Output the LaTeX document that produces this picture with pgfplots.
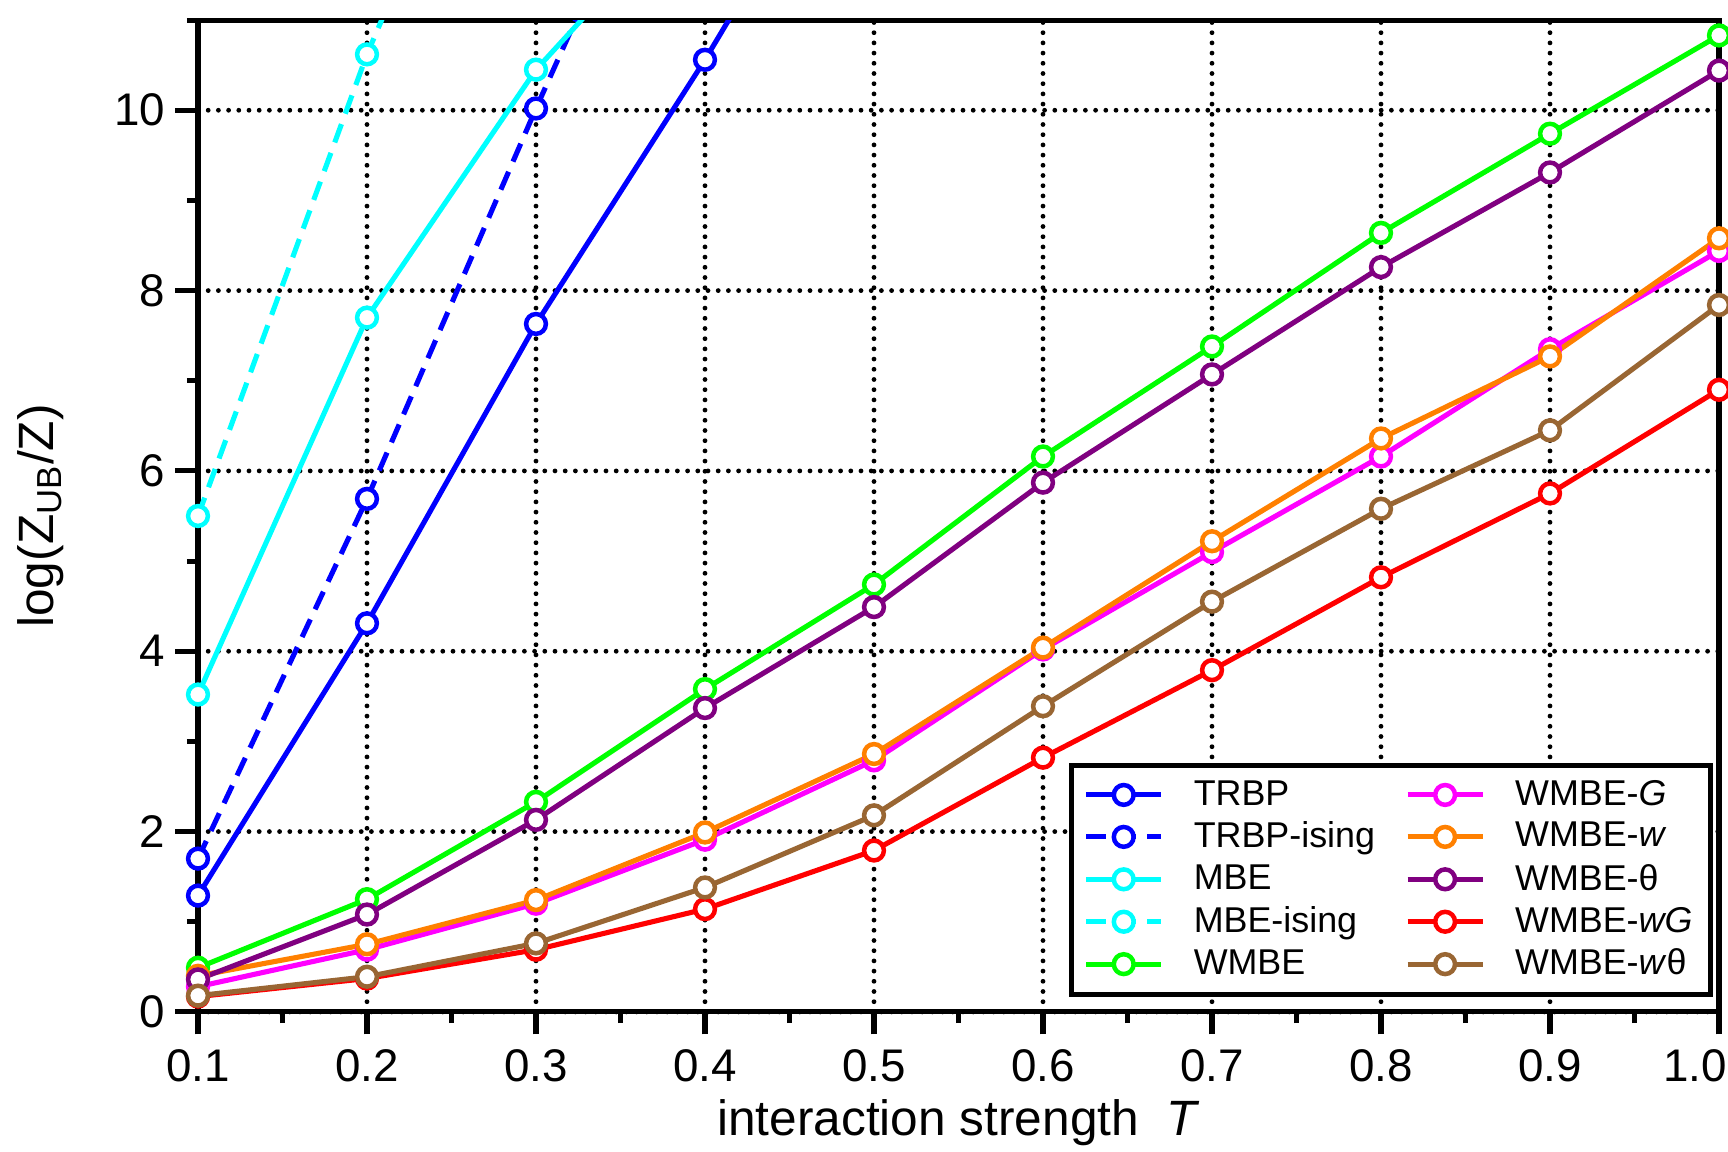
\documentclass[border=0pt]{standalone}
\usepackage{pgfplots}
\pgfplotsset{compat=1.18}
\usepackage{fontspec}
\setmainfont{Liberation Sans}
\definecolor{cBlue}{RGB}{0,0,255}
\definecolor{cCyan}{RGB}{0,255,255}
\definecolor{cGreen}{RGB}{0,255,0}
\definecolor{cMag}{RGB}{255,0,255}
\definecolor{cOrange}{RGB}{255,128,0}
\definecolor{cPurple}{RGB}{128,0,128}
\definecolor{cRed}{RGB}{255,0,0}
\definecolor{cBrown}{RGB}{153,102,51}
\pgfplotsset{
  ser/.style={#1, line width=1.7bp, mark=*, mark size=3.3bp,
    mark options={solid, fill=white, draw=#1, line width=1.5bp}},
  dsh/.style={dash pattern=on 6.5bp off 3.7bp},
}
\begin{document}
\begin{tikzpicture}
\useasboundingbox (-66bp,-46.7bp) rectangle (510bp,337.3bp);
\begin{axis}[
  at={(0,0)}, anchor=south west,
  scale only axis,
  width=507bp, height=330.6bp,
  xmin=0.1, xmax=1.0, ymin=0, ymax=11,
  xtick={0.1,0.2,0.3,0.4,0.5,0.6,0.7,0.8,0.9,1.0},
  xticklabels={0.1,0.2,0.3,0.4,0.5,0.6,0.7,0.8,0.9,1.0\hspace*{16bp}},
  ytick={0,2,4,6,8,10},
  minor xtick={0.15,0.25,0.35,0.45,0.55,0.65,0.75,0.85,0.95},
  minor ytick={1,3,5,7,9,11},
  xtick pos=bottom, ytick pos=left,
  tick align=outside,
  major tick length=7.5bp, minor tick length=3.7bp,
  every tick/.style={black, line width=1.7bp},
  axis line style={line width=1.7bp},
  /pgf/number format/assume math mode=true,
  ticklabel style={font=\fontsize{15.3}{18}\selectfont},
  xticklabel style={yshift=-1.5bp},
  xmajorgrids, ymajorgrids,
  major grid style={black, line width=1.6bp, dash pattern=on 0pt off 3.4bp, line cap=round},
  xlabel={interaction strength\hspace{0.55em}\textit{T}},
  ylabel={log(Z\textsubscript{UB}/Z)},
  label style={font=\fontsize{16.6}{19}\selectfont},
  ylabel style={at={(axis description cs:-0.1032,0.5)}, anchor=center},
  xlabel style={at={(axis description cs:0.5,-0.125)}, anchor=base},
  legend columns=5, transpose legend,
  legend cell align=left,
  legend style={at={(1,0)}, anchor=south east, xshift=-2bp, yshift=5bp,
    draw=black, line width=1.7bp, font=\fontsize{12}{14}\selectfont,
    row sep=0bp, column sep=8bp, inner xsep=4bp, inner ysep=3bp},
  legend image code/.code={\draw[mark repeat=2,mark phase=2,#1] plot coordinates {(0bp,0bp)(12.5bp,0bp)(25bp,0bp)};},
]
\addplot[ser=cBlue] coordinates {(0.1,1.29)(0.2,4.31)(0.3,7.63)(0.4,10.56)(0.5,13.7)};
\addlegendentry{TRBP}
\addplot[ser=cBlue, dsh] coordinates {(0.1,1.70)(0.2,5.69)(0.3,10.02)(0.4,14.2)};
\addlegendentry{TRBP-ising}
\addplot[ser=cCyan] coordinates {(0.1,3.52)(0.2,7.70)(0.3,10.45)(0.4,12.5)};
\addlegendentry{MBE}
\addplot[ser=cCyan, dsh] coordinates {(0.1,5.50)(0.2,10.62)(0.3,15.0)};
\addlegendentry{MBE-ising}
\addplot[ser=cGreen] coordinates {(0.1,0.49)(0.2,1.25)(0.3,2.33)(0.4,3.58)(0.5,4.74)(0.6,6.16)(0.7,7.38)(0.8,8.64)(0.9,9.74)(1.0,10.83)};
\addlegendentry{WMBE}
\addplot[ser=cMag] coordinates {(0.1,0.28)(0.2,0.69)(0.3,1.20)(0.4,1.91)(0.5,2.79)(0.6,4.02)(0.7,5.10)(0.8,6.16)(0.9,7.35)(1.0,8.44)};
\addlegendentry{WMBE-\textit{G}}
\addplot[ser=cOrange] coordinates {(0.1,0.40)(0.2,0.75)(0.3,1.24)(0.4,1.99)(0.5,2.86)(0.6,4.04)(0.7,5.22)(0.8,6.36)(0.9,7.27)(1.0,8.58)};
\addlegendentry{WMBE-\textit{w}}
\addplot[ser=cPurple] coordinates {(0.1,0.36)(0.2,1.08)(0.3,2.13)(0.4,3.37)(0.5,4.49)(0.6,5.87)(0.7,7.07)(0.8,8.26)(0.9,9.31)(1.0,10.44)};
\addlegendentry{WMBE-θ}
\addplot[ser=cRed] coordinates {(0.1,0.17)(0.2,0.37)(0.3,0.69)(0.4,1.14)(0.5,1.79)(0.6,2.82)(0.7,3.79)(0.8,4.82)(0.9,5.75)(1.0,6.90)};
\addlegendentry{WMBE-\textit{wG}}
\addplot[ser=cBrown] coordinates {(0.1,0.18)(0.2,0.39)(0.3,0.76)(0.4,1.38)(0.5,2.18)(0.6,3.39)(0.7,4.55)(0.8,5.58)(0.9,6.45)(1.0,7.84)};
\addlegendentry{WMBE-\textit{w}θ}
\end{axis}
\end{tikzpicture}
\end{document}
